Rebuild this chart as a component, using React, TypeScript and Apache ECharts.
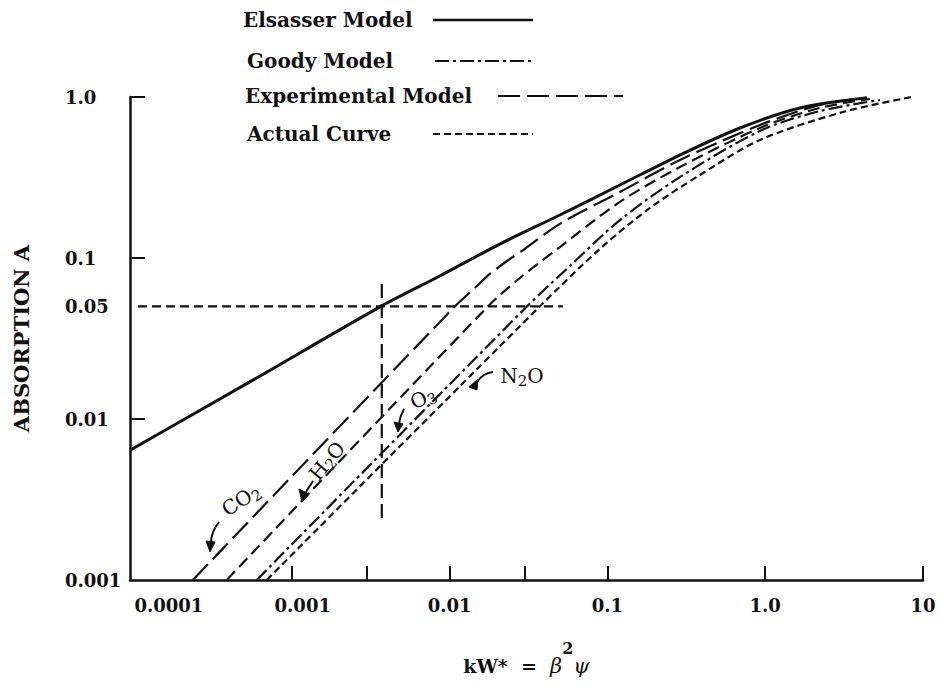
import React, { useEffect, useRef } from 'react';
import * as echarts from 'echarts';

// ---- axis ranges & ticks ----
const X_MIN = 0.0000944;
const X_MAX = 10;
const Y_MIN = 0.001;
const Y_MAX = 1;

const xLabelValues = [0.0001, 0.001, 0.01, 0.1, 1, 10];
const xTickValues = [0.001, 0.003, 0.01, 0.03, 0.1, 1, 10];
const yLabelValues = [0.001, 0.01, 0.05, 0.1, 1];
const yTickValues = [0.01, 0.1, 1];

const legendNames = ['Elsasser Model', 'Goody Model', 'Experimental Model', 'Actual Curve'];

// ---- curves (kW*, absorption A) ----
const elsasserX = [0.0000944, 0.000542, 0.00372, 0.00867, 0.0208, 0.05, 0.12, 0.288, 0.692, 1.66, 4.42];
const elsasserY = [0.0064, 0.017, 0.0504, 0.0773, 0.122, 0.185, 0.284, 0.436, 0.642, 0.855, 0.99];

const co2X = [0.000236, 0.0108, 0.01445, 0.018, 0.0231, 0.03, 0.05, 0.12, 0.288, 0.926, 2.22, 4.11];
const co2Y = [0.001, 0.05, 0.0651, 0.0796, 0.0958, 0.114, 0.163, 0.257, 0.406, 0.67, 0.892, 0.986];

const h2oX = [0.000387, 0.0175, 0.0279, 0.05, 0.12, 0.288, 0.926, 2.22, 4.61];
const h2oY = [0.001, 0.05, 0.0751, 0.117, 0.223, 0.367, 0.642, 0.855, 0.972];

const o3X = [0.0006, 0.0309, 0.0579, 0.12, 0.288, 0.926, 2.22, 5.34];
const o3Y = [0.001, 0.05, 0.0892, 0.172, 0.318, 0.615, 0.818, 0.958];

const n2oX = [0.000694, 0.0373, 0.0897, 0.186, 0.386, 0.926, 3.11, 8.5];
const n2oY = [0.001, 0.05, 0.114, 0.2045, 0.328, 0.541, 0.807, 1.0];

// reference construction lines
const levelX = [0.000106, 0.0522];
const levelY = [0.05, 0.05];
const markerX = [0.00372, 0.00372];
const markerY = [0.00243, 0.0729];

const INK = '#111';
const SERIF = '"DejaVu Serif", "Liberation Serif", serif';

// line styles
const DASH_ELSASSER: any = 'solid';
const DASH_GOODY = [14, 4, 3, 4];
const DASH_EXPER = [22, 7];
const DASH_ACTUAL = [7, 4];
const DASH_H2O = [12, 6];

const zip = (xs: number[], ys: number[]) => xs.map((x, i) => [x, ys[i]]);
const near = (a: number, b: number) => Math.abs(a - b) / b < 1e-6;
const fmt = (v: number) => {
  if (near(v, 1)) return '1.0';
  if (near(v, 10)) return '10';
  return String(+v.toPrecision(3));
};

const tickFont = { fontFamily: SERIF, fontSize: 18, fontWeight: 'bold' as const, color: INK };

function annText(x: number, y: number, rotDeg: number, text: string) {
  return {
    type: 'text',
    x,
    y,
    rotation: (rotDeg * Math.PI) / 180,
    silent: true,
    style: {
      text,
      align: 'center',
      verticalAlign: 'middle',
      fill: INK,
      fontFamily: SERIF,
      fontSize: 20,
      rich: {
        n: { fontFamily: SERIF, fontSize: 20, fill: INK, verticalAlign: 'middle' },
        s: { fontFamily: SERIF, fontSize: 15, fill: INK, padding: [10, 0, 0, 0], verticalAlign: 'middle' },
      },
    },
  };
}

function arrow(path: number[], head: number[][]) {
  return [
    {
      type: 'bezierCurve',
      silent: true,
      shape: { x1: path[0], y1: path[1], cpx1: path[2], cpy1: path[3], x2: path[4], y2: path[5] },
      style: { stroke: INK, lineWidth: 2, fill: null },
    },
    {
      type: 'polygon',
      silent: true,
      shape: { points: head },
      style: { fill: INK, stroke: INK, lineWidth: 1 },
    },
  ];
}

function legendRow(name: string, textX: number, y: number, lineX0: number, lineX1: number, dash: any, width: number) {
  return [
    {
      type: 'text',
      x: textX,
      y,
      silent: true,
      style: {
        text: name,
        align: 'left',
        verticalAlign: 'middle',
        fill: INK,
        fontFamily: SERIF,
        fontSize: 20,
        fontWeight: 'bold',
      },
    },
    {
      type: 'line',
      silent: true,
      shape: { x1: lineX0, y1: y, x2: lineX1, y2: y },
      style: { stroke: INK, lineWidth: width, lineDash: dash === 'solid' ? null : dash },
    },
  ];
}

function buildOption() {
  const curve = (name: string, xs: number[], ys: number[], type: any, width = 2.2) => ({
    name,
    type: 'line',
    data: zip(xs, ys),
    symbol: 'none',
    smooth: 0.3,
    silent: true,
    lineStyle: { color: INK, width, type },
    itemStyle: { color: INK },
  });

  return {
    animation: false,
    backgroundColor: '#fff',
    grid: { left: 130, right: 18, top: 97, bottom: 115, containLabel: false, outerBoundsMode: 'none' },
    xAxis: {
      type: 'log',
      logBase: 10,
      min: X_MIN,
      max: X_MAX,
      name: '{a|kW*  =  }{g|β}{sup|2}{g|ψ}',
      nameLocation: 'middle',
      nameGap: 60,
      nameTextStyle: {
        color: INK,
        rich: {
          a: { fontFamily: SERIF, fontSize: 19, fontWeight: 'bold', color: INK, verticalAlign: 'middle' },
          g: { fontFamily: SERIF, fontSize: 21, fontStyle: 'italic', color: INK, verticalAlign: 'middle' },
          sup: { fontFamily: SERIF, fontSize: 16, fontWeight: 'bold', color: INK, padding: [0, 0, 36, 0], verticalAlign: 'middle' },
        },
      },
      axisLine: { show: true, lineStyle: { color: INK, width: 2.5 } },
      axisTick: { show: true, inside: true, length: 14, customValues: xTickValues, lineStyle: { color: INK, width: 2 } },
      axisLabel: {
        show: true,
        customValues: xLabelValues,
        margin: 16,
        ...tickFont,
        formatter: (v: number) => {
          const s = fmt(v);
          if (near(v, 0.0001)) return `{p4|${s}}`;
          if (near(v, 0.001)) return `{p3|${s}}`;
          return s;
        },
        rich: {
          p4: { ...tickFont, padding: [0, 0, 0, 70] },
          p3: { ...tickFont, padding: [0, 0, 0, 22] },
        },
      },
      splitLine: { show: false },
      minorTick: { show: false },
    },
    yAxis: {
      type: 'log',
      logBase: 10,
      min: Y_MIN,
      max: Y_MAX,
      name: 'ABSORPTION A',
      nameLocation: 'middle',
      nameRotate: 90,
      nameGap: 98,
      nameTextStyle: { fontFamily: SERIF, fontSize: 21, fontWeight: 'bold', color: INK },
      axisLine: { show: true, lineStyle: { color: INK, width: 2.5 } },
      axisTick: { show: true, inside: true, length: 15, customValues: yTickValues, lineStyle: { color: INK, width: 2 } },
      axisLabel: {
        show: true,
        customValues: yLabelValues,
        align: 'left',
        margin: 65,
        ...tickFont,
        formatter: (v: number) => fmt(v),
      },
      splitLine: { show: false },
      minorTick: { show: false },
    },
    series: [
      curve(legendNames[0], elsasserX, elsasserY, DASH_ELSASSER, 3),
      curve(legendNames[2], co2X, co2Y, DASH_EXPER),
      curve('H₂O', h2oX, h2oY, DASH_H2O),
      curve(legendNames[1], o3X, o3Y, DASH_GOODY),
      curve(legendNames[3], n2oX, n2oY, DASH_ACTUAL),
      { ...curve('A = 0.05', levelX, levelY, [9, 5], 2.2), smooth: false },
      { ...curve('kW* at A = 0.05', markerX, markerY, [14, 6], 2.2), smooth: false },
    ],
    graphic: [
      ...legendRow(legendNames[0], 243, 20, 433, 533, DASH_ELSASSER, 2.6),
      ...legendRow(legendNames[1], 247, 61, 435, 533, DASH_GOODY, 2.2),
      ...legendRow(legendNames[2], 245, 96, 498, 623, DASH_EXPER, 2.2),
      ...legendRow(legendNames[3], 247, 134, 433, 533, DASH_ACTUAL, 2.2),
      annText(241, 500, 33, '{n|CO}{s|2}'),
      annText(327, 461, 50, '{n|H}{s|2}{n|O}'),
      annText(423, 398, 25, '{n|O}{s|3}'),
      annText(522, 376, 0, '{n|N}{s|2}{n|O}'),
      ...arrow([219, 522, 211, 532, 211, 543], [[206, 541], [215, 542], [210, 552]]),
      ...arrow([313, 481, 309, 487, 306, 492], [[299, 489], [309, 494], [302, 502]]),
      ...arrow([404, 409, 400, 416, 399, 424], [[394, 422], [403, 424], [398, 432]]),
      ...arrow([493, 372, 483, 373, 477, 382], [[478, 379], [477, 390], [469, 387]]),
    ],
  };
}

export default function App() {
  const ref = useRef<HTMLDivElement>(null);
  useEffect(() => {
    if (!ref.current) return;
    const chart = echarts.init(ref.current, null, { renderer: 'svg' });
    chart.setOption(buildOption() as any);
    return () => chart.dispose();
  }, []);
  return (
    <div
      ref={ref}
      style={{ position: 'absolute', left: 0, top: 0, width: 941, height: 695, background: '#fff' }}
    />
  );
}
